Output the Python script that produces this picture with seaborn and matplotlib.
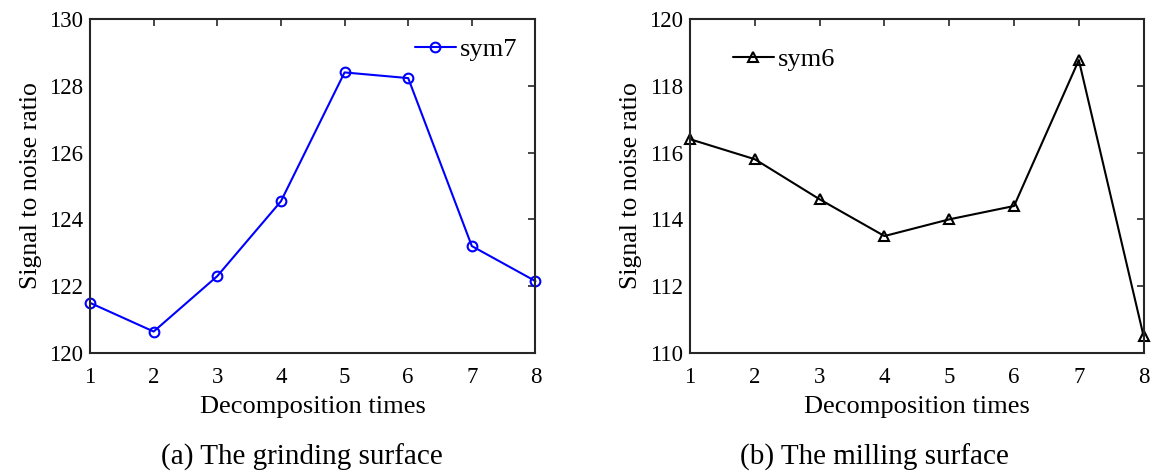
import matplotlib
matplotlib.use("Agg")
import matplotlib.pyplot as plt
import pandas as pd
import seaborn as sns

# Data
times = [1, 2, 3, 4, 5, 6, 7, 8]
snr_grinding = [121.5, 120.64, 122.3, 124.54, 128.4, 128.23, 123.2, 122.15]
snr_milling = [116.4, 115.8, 114.6, 113.5, 114.0, 114.4, 118.77, 110.5]

sns.set_style("white")
plt.rcParams['font.family'] = ['Liberation Serif', 'DejaVu Serif']
plt.rcParams['text.color'] = 'black'
plt.rcParams['axes.labelcolor'] = 'black'
plt.rcParams['xtick.color'] = 'black'
plt.rcParams['ytick.color'] = 'black'

df_a = pd.DataFrame({'times': times, 'snr': snr_grinding})
df_b = pd.DataFrame({'times': times, 'snr': snr_milling})

fig = plt.figure(figsize=(11.54, 4.75), dpi=100)
ax1 = fig.add_axes([0.078, 0.257, 0.386, 0.703])
ax2 = fig.add_axes([0.598, 0.257, 0.393, 0.703])


def style_axis(ax, ylim, yticks):
    ax.set_xlim(1, 8)
    ax.set_ylim(*ylim)
    ax.set_xticks(times)
    ax.set_yticks(yticks)
    ax.tick_params(direction='in', top=True, right=True, length=5, width=1.2,
                   labelsize=16.5, color='#262626', labelcolor='black')
    ax.tick_params(axis='x', pad=10)
    ax.tick_params(axis='y', pad=5)
    for s in ax.spines.values():
        s.set_linewidth(1.5)
        s.set_color('#262626')
    ax.set_xlabel('Decomposition times', fontsize=19, labelpad=6)
    ax.set_ylabel('Signal to noise ratio', fontsize=18.5, labelpad=5)


sns.lineplot(data=df_a, x='times', y='snr', ax=ax1, color='#0000ff', marker='o',
             markersize=7, markerfacecolor='none', markeredgecolor='#0000ff',
             markeredgewidth=1.5, linewidth=1.5, label='sym7', clip_on=False)
style_axis(ax1, (120, 130), [120, 122, 124, 126, 128, 130])
ax1.legend(loc='upper right', frameon=False, fontsize=19, handlelength=1.55,
           handletextpad=0.15, borderaxespad=0.3)

sns.lineplot(data=df_b, x='times', y='snr', ax=ax2, color='black', marker='^',
             markersize=7, markerfacecolor='none', markeredgecolor='black',
             markeredgewidth=1.5, linewidth=1.5, label='sym6', clip_on=False)
style_axis(ax2, (110, 120), [110, 112, 114, 116, 118, 120])
ax2.legend(loc='upper left', bbox_to_anchor=(0.042, 0.985), frameon=False, fontsize=19,
           handlelength=1.55, handletextpad=0.15)

fig.text(0.262, 0.022, '(a) The grinding surface', ha='center', fontsize=21)
fig.text(0.758, 0.022, '(b) The milling surface', ha='center', fontsize=21)

fig.savefig('out.png', dpi=100)
